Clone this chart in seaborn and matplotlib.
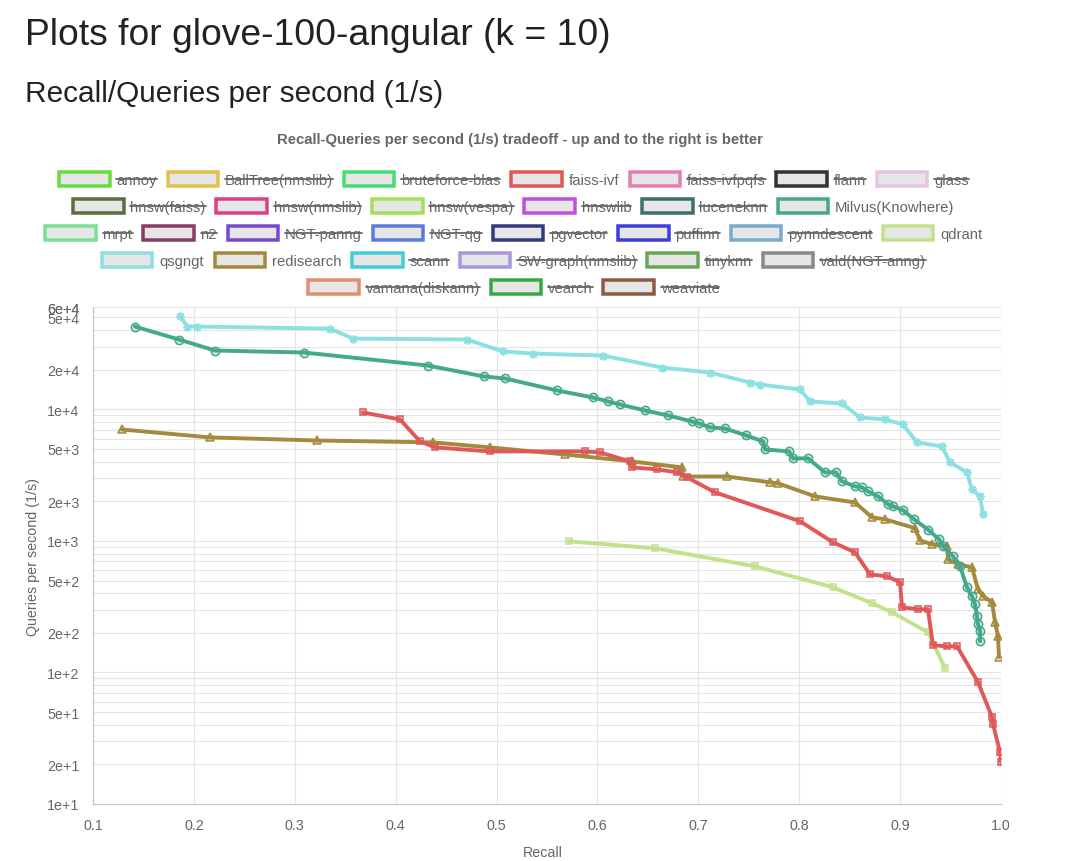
import matplotlib
matplotlib.use("Agg")
import matplotlib.pyplot as plt
import seaborn as sns
import pandas as pd
from matplotlib.patches import Rectangle
from matplotlib.lines import Line2D
from matplotlib.ticker import FixedLocator, FixedFormatter

# ---------------- data ----------------
milvus_recall = [0.1416, 0.1852, 0.2209, 0.3091, 0.4320, 0.4875, 0.5084, 0.5599, 0.5956, 0.6105,
                 0.6224, 0.6471, 0.6699, 0.6937, 0.7007, 0.7116, 0.7264, 0.7472, 0.7641, 0.7661,
                 0.7899, 0.7938, 0.8087, 0.8255, 0.8364, 0.8424, 0.8553, 0.8622, 0.8682, 0.8781,
                 0.8880, 0.8930, 0.9029, 0.9138, 0.9276, 0.9385, 0.9425, 0.9524, 0.9594, 0.9663,
                 0.9712, 0.9742, 0.9762, 0.9772, 0.9792, 0.9792]
milvus_qps = [42600, 33950, 28000, 27050, 21530, 17780, 17170, 13920, 12310, 11480,
              10890, 9810, 8990, 8090, 7820, 7290, 7160, 6340, 5710, 4960,
              4790, 4240, 4240, 3320, 3320, 2840, 2600, 2550, 2380, 2180,
              1900, 1830, 1710, 1460, 1220, 1030, 910, 764, 641, 444,
              380, 330, 267, 233, 206, 173]

qsgngt_recall = [0.1862, 0.1932, 0.2031, 0.3349, 0.3577, 0.4707, 0.5064, 0.5361, 0.6055, 0.6640,
                 0.7116, 0.7512, 0.7611, 0.8008, 0.8107, 0.8424, 0.8602, 0.8850, 0.9029, 0.9167,
                 0.9415, 0.9494, 0.9663, 0.9712, 0.9792, 0.9822]
qsgngt_qps = [51640, 42580, 42580, 41130, 34530, 33960, 27540, 26550, 25660, 20800,
              19060, 16000, 15450, 14160, 11480, 11090, 8680, 8380, 7680, 5610,
              5230, 3950, 3320, 2460, 2180, 1590]

redis_recall = [0.1287, 0.2160, 0.3220, 0.4370, 0.4935, 0.5678, 0.6342, 0.6838, 0.6848, 0.7284,
                0.7710, 0.7790, 0.8156, 0.8553, 0.8721, 0.8850, 0.9147, 0.9197, 0.9316, 0.9465,
                0.9475, 0.9574, 0.9712, 0.9772, 0.9822, 0.9911, 0.9941, 0.9970, 0.9980]
redis_qps = [7030, 6120, 5800, 5610, 5140, 4540, 4020, 3620, 3090, 3090,
             2790, 2740, 2180, 1960, 1510, 1460, 1250, 1010, 942, 910,
             725, 664, 630, 429, 380, 342, 241, 189, 131]

faiss_recall = [0.3676, 0.4043, 0.4241, 0.4390, 0.4935, 0.5877, 0.6025, 0.6323, 0.6342, 0.6590,
                0.6788, 0.6888, 0.7165, 0.8008, 0.8335, 0.8553, 0.8701, 0.8870, 0.8999, 0.9019,
                0.9177, 0.9276, 0.9326, 0.9465, 0.9564, 0.9772, 0.9911, 0.9921, 0.9990, 1.0000]
faiss_qps = [9470, 8380, 5710, 5140, 4790, 4790, 4710, 4020, 3620, 3500,
             3320, 3040, 2340, 1410, 975, 819, 557, 538, 485, 313,
             302, 302, 161, 158, 158, 84.4, 45.8, 40.5, 24.8, 20.8]

qdrant_recall = [0.5718, 0.6570, 0.7562, 0.8335, 0.8721, 0.8919, 0.9276, 0.9445]
qdrant_qps = [993, 879, 641, 444, 336, 287, 202, 108]

legend_rows = [
    ["annoy", "BallTree(nmslib)", "bruteforce-blas", "faiss-ivf", "faiss-ivfpqfs", "flann", "glass"],
    ["hnsw(faiss)", "hnsw(nmslib)", "hnsw(vespa)", "hnswlib", "luceneknn", "Milvus(Knowhere)"],
    ["mrpt", "n2", "NGT-panng", "NGT-qg", "pgvector", "puffinn", "pynndescent", "qdrant"],
    ["qsgngt", "redisearch", "scann", "SW-graph(nmslib)", "tinyknn", "vald(NGT-anng)"],
    ["vamana(diskann)", "vearch", "weaviate"],
]
legend_colors = {
    "annoy": "#68dc40", "BallTree(nmslib)": "#e0c34a", "bruteforce-blas": "#44de74",
    "faiss-ivf": "#e05858", "faiss-ivfpqfs": "#e27fb0", "flann": "#333333", "glass": "#e6c4e3",
    "hnsw(faiss)": "#5b6e40", "hnsw(nmslib)": "#de4086", "hnsw(vespa)": "#a6e05a",
    "hnswlib": "#c24fe0", "luceneknn": "#3e6e6a", "Milvus(Knowhere)": "#44a88a",
    "mrpt": "#7ae097", "n2": "#8a3c64", "NGT-panng": "#7a48cc", "NGT-qg": "#5a7be0",
    "pgvector": "#333a80", "puffinn": "#3d3ddc", "pynndescent": "#7aabcc", "qdrant": "#c2e18d",
    "qsgngt": "#8ce0e2", "redisearch": "#a48a3c", "scann": "#40d0d8",
    "SW-graph(nmslib)": "#a897e0", "tinyknn": "#6aa657", "vald(NGT-anng)": "#8a8a8a",
    "vamana(diskann)": "#e09070", "vearch": "#38a844", "weaviate": "#8e5a44",
}
visible = ["faiss-ivf", "Milvus(Knowhere)", "qdrant", "qsgngt", "redisearch"]

y_grid_vals = [k * 10 ** n for n in range(1, 5) for k in range(1, 10)] + [60000]
y_labelled = {10: "1e+1", 20: "2e+1", 50: "5e+1", 100: "1e+2", 200: "2e+2", 500: "5e+2",
              1000: "1e+3", 2000: "2e+3", 5000: "5e+3", 10000: "1e+4", 20000: "2e+4",
              50000: "5e+4", 60000: "6e+4"}
x_ticks = [0.1, 0.2, 0.3, 0.4, 0.5, 0.6, 0.7, 0.8, 0.9, 1.0]

# ---------------- figure ----------------
sns.set_theme(style="white")
plt.rcParams["font.family"] = ["Liberation Sans", "DejaVu Sans"]

W, H = 1080, 862
fig = plt.figure(figsize=(W / 100, H / 100), dpi=100)
fig.patch.set_facecolor("white")

def fx(px):
    return px / W

def fy(py):
    return 1 - py / H

AX_L, AX_R, AX_T, AX_B = 93, 1001, 308, 805
ax = fig.add_axes([fx(AX_L), fy(AX_B), (AX_R - AX_L) / W, (AX_B - AX_T) / H])

series = [
    ("redisearch", redis_recall, redis_qps, "^", 5.5),
    ("qsgngt", qsgngt_recall, qsgngt_qps, (8, 2, 0), 6),
    ("qdrant", qdrant_recall, qdrant_qps, "s", 4.5),
    ("Milvus(Knowhere)", milvus_recall, milvus_qps, "o", 6),
    ("faiss-ivf", faiss_recall, faiss_qps, "s", 4.5),
]
for name, xs, ys, mk, ms in series:
    df = pd.DataFrame({"Recall": xs, "QPS": ys})
    c = legend_colors[name]
    sns.lineplot(data=df, x="Recall", y="QPS", sort=False, estimator=None, ax=ax,
                 color=c, linewidth=2.8, marker=mk, markersize=ms,
                 markeredgecolor=c, markerfacecolor=matplotlib.colors.to_rgba(c, 0.25),
                 markeredgewidth=1.1, legend=False, zorder=3)

ax.set_yscale("log")
ax.set_xlim(0.1, 1.0)
ax.set_ylim(10, 60000)
ax.yaxis.set_major_locator(FixedLocator(y_grid_vals))
ax.yaxis.set_major_formatter(FixedFormatter([y_labelled.get(v, "") for v in y_grid_vals]))
ax.yaxis.set_minor_locator(FixedLocator([]))
ax.xaxis.set_major_locator(FixedLocator(x_ticks))
ax.xaxis.set_major_formatter(FixedFormatter([f"{v:.1f}" for v in x_ticks]))

grid_c = "#e4e4e4"
ax.grid(True, color=grid_c, linewidth=0.8, zorder=0)
ax.set_axisbelow(True)
for s in ["top", "right"]:
    ax.spines[s].set_visible(False)
for s in ["left", "bottom"]:
    ax.spines[s].set_color("#c6c6c6")
    ax.spines[s].set_linewidth(0.9)
ax.tick_params(axis="y", length=9.4, width=0.8, color=grid_c, pad=0.5, labelsize=10.3, labelcolor="#666666")
ax.tick_params(axis="x", length=6, width=0.8, color=grid_c, pad=4, labelsize=10.3, labelcolor="#666666")
ax.set_xlabel("Recall", fontsize=10.3, color="#666666", va="center")
ax.set_ylabel("Queries per second (1/s)", fontsize=10.3, color="#666666", va="center")
ax.xaxis.set_label_coords((543 - AX_L) / (AX_R - AX_L), -(853 - AX_B) / (AX_B - AX_T))
ax.yaxis.set_label_coords(-(AX_L - 33) / (AX_R - AX_L), 0.5)

# headings
fig.text(fx(25), fy(45), "Plots for glove-100-angular (k = 10)", fontsize=26.8,
         color="#222222", ha="left", va="baseline")
fig.text(fx(25), fy(102), "Recall/Queries per second (1/s)", fontsize=21.4,
         color="#222222", ha="left", va="baseline")
fig.text(fx(520), fy(144), "Recall-Queries per second (1/s) tradeoff - up and to the right is better",
         fontsize=10.7, fontweight="bold", color="#666666", ha="center", va="baseline")

# legend (drawn manually, hidden series struck through)
renderer = fig.canvas.get_renderer()
box_w, box_h, lw_px, gap, spacing = 54, 17, 3.5, 5, 9
leg_fs = 10.75
row_y = [180, 207, 234, 261, 288]
for names, yc in zip(legend_rows, row_y):
    texts = []
    widths = []
    for n in names:
        t = fig.text(0, fy(yc + 5.5), n, fontsize=leg_fs, color="#666666", ha="left", va="baseline")
        texts.append(t)
        widths.append(t.get_window_extent(renderer).width)
    total = sum(box_w + gap + w for w in widths) + spacing * (len(names) - 1)
    x = 513 - total / 2
    for n, t, w in zip(names, texts, widths):
        fig.add_artist(Rectangle((fx(x + lw_px / 2), fy(yc + (box_h - lw_px) / 2)),
                                 (box_w - lw_px) / W, (box_h - lw_px) / H,
                                 transform=fig.transFigure, facecolor="#e6e6e6",
                                 edgecolor=legend_colors[n], linewidth=lw_px * 0.72))
        tx = x + box_w + gap
        t.set_position((fx(tx), fy(yc + 5.5)))
        if n not in visible:
            fig.add_artist(Line2D([fx(tx), fx(tx + w)], [fy(yc), fy(yc)],
                                  transform=fig.transFigure, color="#666666", linewidth=1.3))
        x = tx + w + spacing

fig.savefig("out.png", dpi=100, facecolor="white")
